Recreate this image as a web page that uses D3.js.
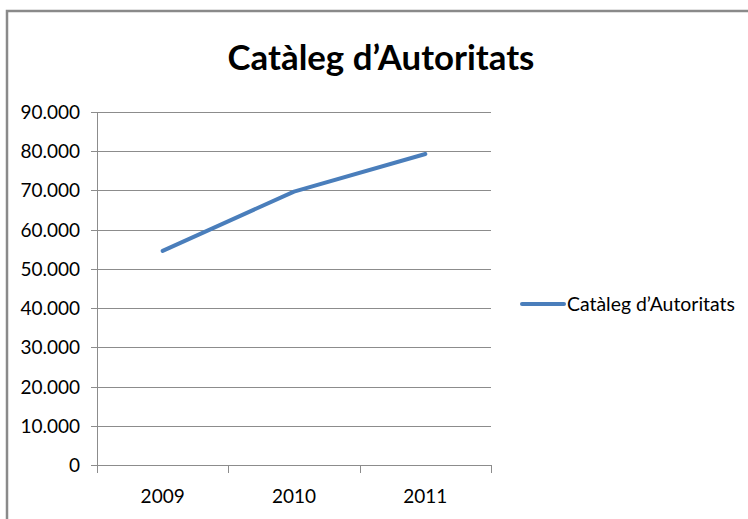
<html>
<head>
<meta charset="utf-8">
<script src="https://cdnjs.cloudflare.com/ajax/libs/d3/7.8.5/d3.min.js"></script>
<style>
  body { margin: 0; background: #fff; }
  text { font-family: Lato, "Open Sans", sans-serif; fill: #000; }
</style>
</head>
<body>
<script>
var years = ["2009", "2010", "2011"];
var values = [54600, 69700, 79300];
var yTicks = [0, 10000, 20000, 30000, 40000, 50000, 60000, 70000, 80000, 90000];
var seriesName = "Catàleg d’Autoritats";
var titleText = "Catàleg d’Autoritats";

var W = 748, H = 519;
var plot = {left: 97, right: 491, top: 112, bottom: 465};

var svg = d3.select("body").append("svg").attr("width", W).attr("height", H);

// chart frame
svg.append("rect")
    .attr("x", 7).attr("y", 11)
    .attr("width", W).attr("height", H)
    .attr("fill", "#fff").attr("stroke", "#8a8a8a").attr("stroke-width", 2.5);

var x = d3.scaleBand().domain(years).range([plot.left, plot.right]);
var y = d3.scaleLinear().domain([0, 90000]).range([plot.bottom, plot.top]);

var fmt = function(v) { return v === 0 ? "0" : d3.format(",")(v).replace(/,/g, "."); };

// gridlines
svg.append("g").selectAll("line").data(yTicks).enter().append("line")
    .attr("x1", plot.left - 6).attr("x2", plot.right)
    .attr("y1", function(d) { return Math.round(y(d)) + 0.5; })
    .attr("y2", function(d) { return Math.round(y(d)) + 0.5; })
    .attr("stroke", "#8c8c8c").attr("stroke-width", 1);

// y axis line
svg.append("line")
    .attr("x1", plot.left + 0.5).attr("x2", plot.left + 0.5)
    .attr("y1", plot.top).attr("y2", plot.bottom)
    .attr("stroke", "#8c8c8c");

// y labels
svg.append("g").selectAll("text").data(yTicks).enter().append("text")
    .attr("x", 80).attr("y", function(d) { return y(d) + 7; })
    .attr("text-anchor", "end")
    .style("font-size", "19px")
    .text(fmt);

// x ticks
var xTickPos = years.map(function(d) { return x(d); }).concat([plot.right]);
svg.append("g").selectAll("line").data(xTickPos).enter().append("line")
    .attr("x1", function(d) { return Math.round(d) + 0.5; })
    .attr("x2", function(d) { return Math.round(d) + 0.5; })
    .attr("y1", plot.bottom).attr("y2", plot.bottom + 8)
    .attr("stroke", "#8c8c8c");

// x labels
svg.append("g").selectAll("text").data(years).enter().append("text")
    .attr("x", function(d) { return x(d) + x.bandwidth() / 2; })
    .attr("y", 503)
    .attr("text-anchor", "middle")
    .style("font-size", "19px")
    .text(function(d) { return d; });

// series line
var line = d3.line()
    .x(function(d, i) { return x(years[i]) + x.bandwidth() / 2; })
    .y(function(d) { return y(d); });

svg.append("path")
    .datum(values)
    .attr("d", line)
    .attr("fill", "none")
    .attr("stroke", "#4a7ebb")
    .attr("stroke-width", 4)
    .attr("stroke-linecap", "round")
    .attr("stroke-linejoin", "round");

// title
var title = svg.append("text")
    .attr("x", 381).attr("y", 70)
    .attr("text-anchor", "middle")
    .style("font-weight", "bold")
    .style("font-size", "34px")
    .text(titleText);
var tw = title.node().getComputedTextLength();
title.style("font-size", (34 * 307 / tw) + "px");

// legend
svg.append("line")
    .attr("x1", 522).attr("x2", 564)
    .attr("y1", 304).attr("y2", 304)
    .attr("stroke", "#4a7ebb").attr("stroke-width", 4)
    .attr("stroke-linecap", "round");
var leg = svg.append("text")
    .attr("x", 567).attr("y", 311)
    .style("font-size", "20px")
    .text(seriesName);
var lw = leg.node().getComputedTextLength();
leg.style("font-size", (20 * 168 / lw) + "px");
</script>
</body>
</html>
